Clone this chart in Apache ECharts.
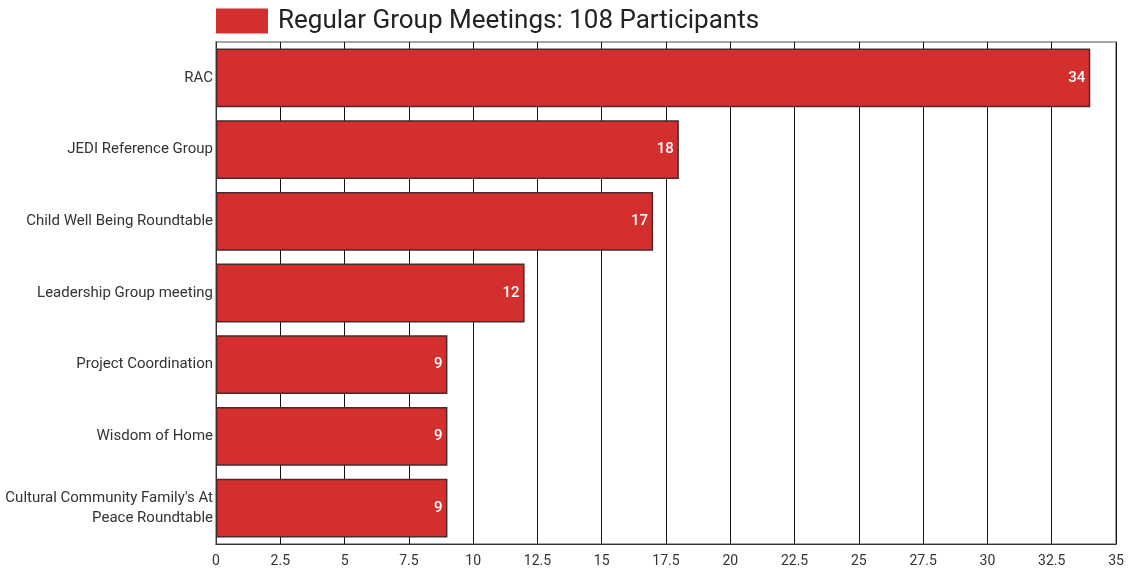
<!DOCTYPE html>
<html>
<head>
<meta charset="utf-8">
<script src="https://cdn.jsdelivr.net/npm/echarts@6/dist/echarts.min.js"></script>
<style>
  html, body { margin: 0; padding: 0; background: #fff; }
  #chart { width: 1129px; height: 572px; }
</style>
</head>
<body>
<div id="chart"></div>
<script>
// Participants per regular group meeting
const seriesName = 'Regular Group Meetings: 108 Participants';
const groups = [
  'RAC',
  'JEDI Reference Group',
  'Child Well Being Roundtable',
  'Leadership Group meeting',
  'Project Coordination',
  'Wisdom of Home',
  "Cultural Community Family's At Peace Roundtable"
];
const participants = [34, 18, 17, 12, 9, 9, 9];
const xTicks = { min: 0, max: 35, interval: 2.5 };

// Wrap long group names onto two lines, breaking at the last space that fits
function wrapName(name, maxChars) {
  if (name.length <= maxChars) return name;
  const cut = name.lastIndexOf(' ', maxChars);
  return name.slice(0, cut) + '\n' + name.slice(cut + 1);
}

const chart = echarts.init(document.getElementById('chart'));
chart.setOption({
  animation: false,
  textStyle: { fontFamily: 'Roboto' },
  legend: {
    left: 211, top: 3,
    icon: 'rect',
    itemWidth: 52, itemHeight: 25, itemGap: 10,
    itemStyle: { borderWidth: 0 },
    textStyle: { fontSize: 26, color: '#222', fontFamily: 'Roboto', padding: [0, 0, 0, 5] },
    data: [seriesName]
  },
  grid: {
    left: 216, right: 13, top: 42, bottom: 28,
    outerBoundsMode: 'none', containLabel: false,
    show: true, borderColor: '#888', borderWidth: 1.5
  },
  xAxis: {
    type: 'value', min: xTicks.min, max: xTicks.max, interval: xTicks.interval,
    axisLine: { show: true, lineStyle: { color: '#333' } },
    axisTick: { show: false },
    axisLabel: { color: '#333', fontSize: 14, margin: 10 },
    splitLine: { show: true, lineStyle: { color: '#111', width: 1 } }
  },
  yAxis: {
    type: 'category', data: groups, inverse: true,
    axisLine: { show: true, lineStyle: { color: '#333' } },
    axisTick: { show: false },
    axisLabel: {
      color: '#333', fontSize: 15, margin: 3, lineHeight: 20,
      formatter: (v) => wrapName(v, 32)
    }
  },
  series: [{
    name: seriesName, type: 'bar', data: participants,
    barCategoryGap: '18%',
    itemStyle: { color: '#d32f2f', borderColor: '#4a2a2a', borderWidth: 1.5 },
    label: { show: true, position: 'insideRight', color: '#fff', fontWeight: 500, fontSize: 15 }
  }]
});
</script>
</body>
</html>
